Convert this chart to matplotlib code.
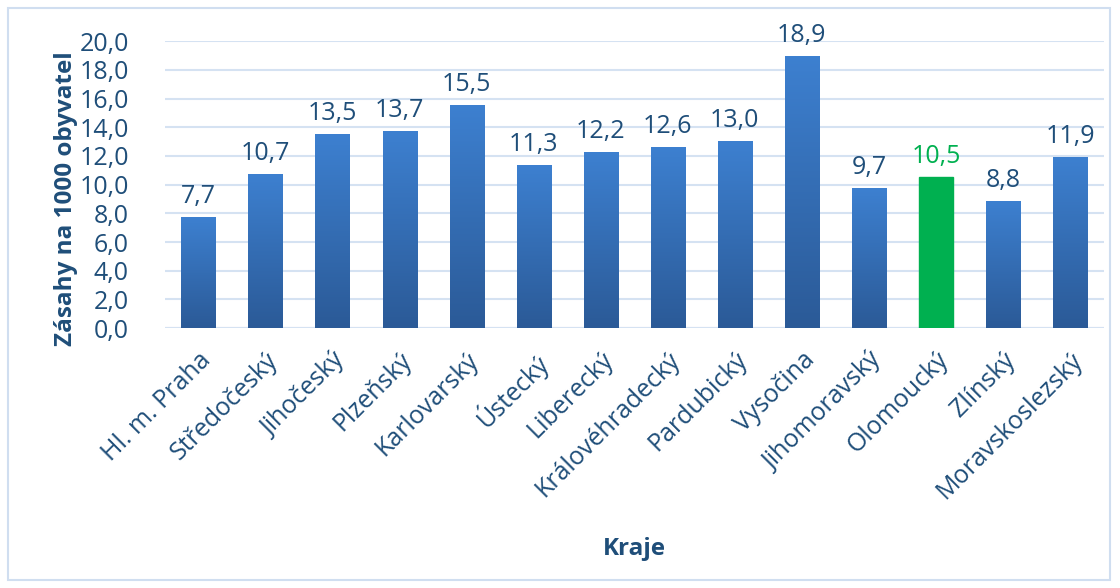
import matplotlib
matplotlib.use("Agg")
import matplotlib.pyplot as plt
import numpy as np
from matplotlib.patches import Rectangle
from matplotlib.colors import LinearSegmentedColormap

plt.rcParams['font.family'] = ['Open Sans', 'DejaVu Sans']

kraje = ["Hl. m. Praha", "Středočeský", "Jihočeský", "Plzeňský", "Karlovarský",
         "Ústecký", "Liberecký", "Královéhradecký", "Pardubický", "Vysočina",
         "Jihomoravský", "Olomoucký", "Zlínský", "Moravskoslezský"]
zasahy = [7.7, 10.7, 13.5, 13.7, 15.5, 11.3, 12.2, 12.6, 13.0, 18.9, 9.7, 10.5, 8.8, 11.9]
highlight = "Olomoucký"

TEXT = "#1f4e79"
GREEN = "#00b050"
GRID = "#d5e2f2"

fig = plt.figure(figsize=(11.2, 5.88), dpi=100)
ax = fig.add_axes([0.1473, 0.442, 0.838, 0.488])

# light border round the chart
fig.patches.append(Rectangle((8 / 1120, 8 / 588), 1102 / 1120, 572 / 588,
                             transform=fig.transFigure, fill=False,
                             edgecolor="#d0def0", linewidth=1.5))

x = np.arange(len(kraje))
bars = ax.bar(x, zasahy, width=0.51, color="#3472c0", zorder=3)

grad = LinearSegmentedColormap.from_list("g", ["#2b5a97", "#3d80d0"])
img = np.linspace(0, 1, 256).reshape(-1, 1)
for name, b, v in zip(kraje, bars, zasahy):
    # soft shadow under each bar
    ax.add_patch(Rectangle((b.get_x() - 0.01, -0.25), b.get_width() + 0.02, 0.25,
                           color="#b8b8b8", alpha=0.5, zorder=2, linewidth=0))
    if name == highlight:
        b.set_color(GREEN)
        col = GREEN
    else:
        b.set_facecolor("none")
        b.set_edgecolor("none")
        ax.imshow(img, cmap=grad, origin="lower", aspect="auto", zorder=3,
                  extent=[b.get_x(), b.get_x() + b.get_width(), 0, v])
        col = TEXT
    ax.text(b.get_x() + b.get_width() / 2, v + 0.6, f"{v:.1f}".replace(".", ","),
            ha="center", va="bottom", fontsize=18, color=col)

ax.set_xlim(-0.5, len(kraje) - 0.5)
ax.set_ylim(0, 20)
ax.set_yticks(np.arange(0, 21, 2))
ax.set_yticklabels([f"{t:.1f}".replace(".", ",") for t in np.arange(0, 21, 2)])
ax.set_xticks(x)
ax.set_xticklabels(kraje, rotation=45, ha="right", rotation_mode="anchor")
ax.tick_params(axis="both", length=0, labelsize=18, labelcolor=TEXT)
ax.tick_params(axis="x", pad=14)
ax.tick_params(axis="y", pad=26)
ax.grid(axis="y", color=GRID, linewidth=1.5, zorder=0)
ax.set_axisbelow(True)
for s in ax.spines.values():
    s.set_visible(False)
ax.axhline(0, color=GRID, linewidth=1.5, zorder=1)

ax.set_ylabel("Zásahy na 1000 obyvatel", fontsize=17.5, fontweight="bold", color=TEXT)
ax.yaxis.set_label_coords(-0.093, 0.45)
ax.set_xlabel("Kraje", fontsize=17.5, fontweight="bold", color=TEXT, labelpad=24)

fig.savefig("out.png", dpi=100)
